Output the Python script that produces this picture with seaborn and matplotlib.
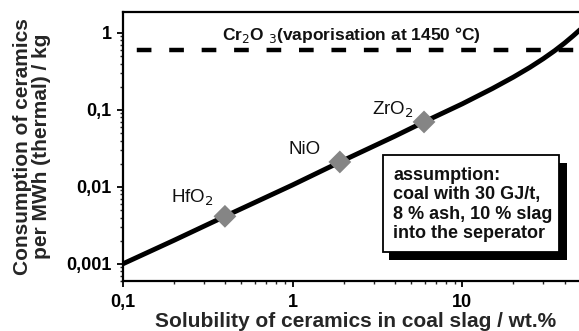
import numpy as np
import pandas as pd
import matplotlib
matplotlib.use("Agg")
import matplotlib.pyplot as plt
from matplotlib.patches import Rectangle
from matplotlib.ticker import FixedLocator, LogLocator, NullFormatter, FuncFormatter
import seaborn as sns

# Consumption curve: solubility (wt.%) vs ceramics consumption (kg per MWh thermal)
solubility = [0.1, 0.2, 0.4, 1, 2, 4, 6, 10, 15, 20, 25, 30, 35, 40, 45, 50]
consumption = [0.001, 0.00202, 0.00415, 0.0106, 0.0222, 0.0455, 0.0705, 0.12,
               0.189, 0.267, 0.357, 0.463, 0.588, 0.738, 0.918, 1.13]

# Individual ceramics on the curve
ceramics = ["HfO$_2$", "NiO", "ZrO$_2$"]
ceramic_solubility = [0.4, 1.9, 5.95]
ceramic_consumption = [0.00415, 0.0211, 0.0698]

# Cr2O3 vaporisation limit
cr2o3_limit = 0.6

x_ticks = [0.1, 1, 10]
x_tick_labels = ["0,1", "1", "10"]
y_ticks = [0.001, 0.01, 0.1, 1]
y_tick_labels = ["0,001", "0,01", "0,1", "1"]

curve = pd.DataFrame({"solubility": solubility, "consumption": consumption})
points = pd.DataFrame({"solubility": ceramic_solubility,
                       "consumption": ceramic_consumption,
                       "ceramic": ceramics})

sns.set_style("ticks")
plt.rcParams["font.family"] = ["Liberation Sans", "DejaVu Sans"]

W, H = 579, 331
fig = plt.figure(figsize=(W / 100, H / 100), dpi=100)
ax = fig.add_axes([122.7 / W, 50 / H, (581 - 122.7) / W, 269 / H])
ax.set_xscale("log")
ax.set_yscale("log")
ax.set_xlim(0.1, 50)
ax.set_ylim(0.0006, 1.87)

# Vaporisation limit as a dashed horizontal line
ax.plot([0.1, 50], [cr2o3_limit, cr2o3_limit], color="black", lw=3.2,
        linestyle=(4.2, (3.3, 4.0)), solid_capstyle="butt", zorder=2)

sns.lineplot(data=curve, x="solubility", y="consumption", ax=ax,
             color="black", lw=3.5, zorder=3, legend=False)
sns.scatterplot(data=points, x="solubility", y="consumption", ax=ax,
                marker="D", s=135, color="#858585", edgecolor="none",
                zorder=4, legend=False)

label_pos = [(0.256, 0.00726), (1.18, 0.0305), (3.89, 0.101)]
for name, (lx, ly) in zip(ceramics, label_pos):
    ax.text(lx, ly, name, ha="center", va="center", fontsize=13.5,
            color="#111111")

ax.text(0.384, 0.95, "Cr$_2$O $_3$(vaporisation at 1450 °C)", ha="left",
        va="center", fontsize=12.5, fontweight="bold", color="#111111")

# Assumption box with drop shadow (figure pixel coordinates)
def px_rect(x0, y0, x1, y1, **kw):
    return Rectangle((x0 / W, 1 - y1 / H), (x1 - x0) / W, (y1 - y0) / H,
                     transform=fig.transFigure, clip_on=False, **kw)

ax.add_patch(px_rect(389, 163, 567, 260, facecolor="black",
                     edgecolor="black", lw=0, zorder=5))
ax.add_patch(px_rect(383, 155, 559, 252, facecolor="white",
                     edgecolor="black", lw=1.3, zorder=6))
ax.text(393 / W, 1 - 167 / H,
        "assumption:\ncoal with 30 GJ/t,\n8 % ash, 10 % slag\ninto the seperator",
        transform=fig.transFigure, ha="left", va="top", fontsize=13,
        fontweight="bold", linespacing=1.18, zorder=7, color="#111111")

# Axes styling
ax.xaxis.set_major_locator(FixedLocator(x_ticks))
ax.xaxis.set_major_formatter(FuncFormatter(
    lambda v, p: dict(zip(x_ticks, x_tick_labels)).get(v, "")))
ax.xaxis.set_minor_locator(LogLocator(base=10, subs=np.arange(2, 10)))
ax.xaxis.set_minor_formatter(NullFormatter())
ax.yaxis.set_major_locator(FixedLocator(y_ticks))
ax.yaxis.set_major_formatter(FuncFormatter(
    lambda v, p: dict(zip(y_ticks, y_tick_labels)).get(v, "")))
ax.yaxis.set_minor_locator(LogLocator(base=10, subs=np.arange(2, 10)))
ax.yaxis.set_minor_formatter(NullFormatter())

for side in ["left", "bottom", "top", "right"]:
    ax.spines[side].set_visible(True)
    ax.spines[side].set_linewidth(1.6)
    ax.spines[side].set_color("black")

ax.tick_params(which="major", direction="out", length=4.5, width=1.3,
               labelsize=13, pad=3.5, colors="black")
ax.tick_params(axis="x", which="major", pad=5)
ax.tick_params(which="minor", direction="out", length=2.3, width=1.0)
for lab in ax.get_xticklabels() + ax.get_yticklabels():
    lab.set_fontweight("bold")

ax.set_xlabel("Solubility of ceramics in coal slag / wt.%", fontsize=15,
              fontweight="bold", va="center")
ax.set_ylabel("Consumption of ceramics\nper MWh (thermal) / kg", fontsize=15,
              fontweight="bold", va="center", linespacing=1.0)
ax.xaxis.set_label_coords(0.509, -0.152)
ax.yaxis.set_label_coords(-0.198, 0.5)

fig.savefig("out.png", dpi=100)
